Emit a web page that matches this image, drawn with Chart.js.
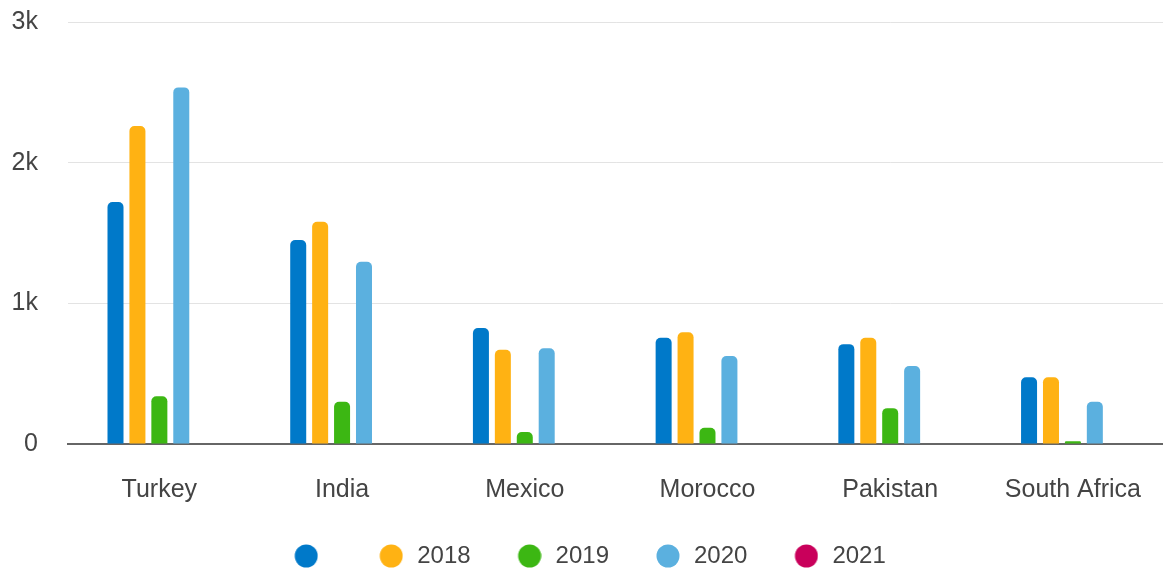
<!DOCTYPE html>
<html>
<head>
<meta charset="utf-8">
<script src="https://cdn.jsdelivr.net/npm/chart.js@4"></script>
<style>
  html, body { margin: 0; padding: 0; overflow: hidden; background: #fff; }
  #wrap { width: 1172px; height: 569px; position: relative; }
</style>
</head>
<body>
<div id="wrap"><canvas id="myChart"></canvas></div>
<script>
const categories = ['Turkey', 'India', 'Mexico', 'Morocco', 'Pakistan', 'South Africa'];
const seriesNames = ['', '2018', '2019', '2020', '2021'];
const seriesFirst = [1720, 1450, 825, 755, 710, 474];
const series2018 = [2260, 1580, 670, 795, 755, 474];
const series2019 = [340, 300, 85, 115, 255, 20];
const series2020 = [2535, 1295, 680, 625, 555, 300];
const series2021 = [null, null, null, null, null, null];
const yTicks = [0, 1000, 2000, 3000];
const yTickLabels = ['0', '1k', '2k', '3k'];

const colors = ['#0079c9', '#ffb213', '#3cb713', '#5bb0df', '#c9005b'];
const allSeries = [seriesFirst, series2018, series2019, series2020, series2021];

// round legend dots drawn as small images so the box can be wider than the dot
function dot(color) {
    const c = document.createElement('canvas');
    c.width = 30;
    c.height = 24;
    const g = c.getContext('2d');
    g.fillStyle = color;
    g.beginPath();
    g.arc(18, 12, 11.5, 0, Math.PI * 2);
    g.fill();
    return c;
}
const dots = colors.map(dot);

const ctx = document.getElementById('myChart').getContext('2d');
const chart = new Chart(ctx, {
    type: 'bar',
    data: {
        labels: categories,
        datasets: allSeries.map((vals, i) => ({
            label: seriesNames[i],
            data: vals,
            backgroundColor: colors[i],
            borderRadius: { topLeft: 5, topRight: 5 },
            borderSkipped: 'start',
            categoryPercentage: 0.6,
            barPercentage: 0.73,
        })),
    },
    options: {
        responsive: true,
        maintainAspectRatio: false,
        animation: false,
        layout: { padding: { top: 22, right: 0, left: 0, bottom: 0 } },
        plugins: {
            tooltip: { enabled: false },
            legend: {
                position: 'bottom',
                maxHeight: 64,
                labels: {
                    usePointStyle: true,
                    pointStyleWidth: 34,
                    padding: 39,
                    color: '#444',
                    font: { family: '"Liberation Sans", Arial, sans-serif', size: 24 },
                    generateLabels: (c) => {
                        const items = Chart.defaults.plugins.legend.labels.generateLabels(c);
                        items.forEach(it => { it.pointStyle = dots[it.datasetIndex]; });
                        return items;
                    },
                },
            },
        },
        scales: {
            x: {
                afterFit: (scale) => { scale.height = 61; },
                grid: { display: false, drawTicks: false },
                border: { display: true, color: '#666', width: 2 },
                ticks: {
                    padding: 31,
                    color: '#444',
                    font: { family: '"Liberation Sans", Arial, sans-serif', size: 25 },
                },
            },
            y: {
                min: 0,
                max: 3000,
                afterFit: (scale) => {
                    scale.width = 68;
                    scale.paddingTop = 15;
                    scale.paddingBottom = 15;
                },
                afterBuildTicks: (scale) => { scale.ticks = yTicks.map(v => ({ value: v })); },
                grid: { color: '#e3e3e3', lineWidth: 1, drawTicks: false },
                border: { display: false },
                ticks: {
                    padding: 30,
                    color: '#444',
                    font: { family: '"Liberation Sans", Arial, sans-serif', size: 25 },
                    callback: (value) => yTickLabels[yTicks.indexOf(value)],
                },
            },
        },
    },
});
</script>
</body>
</html>
